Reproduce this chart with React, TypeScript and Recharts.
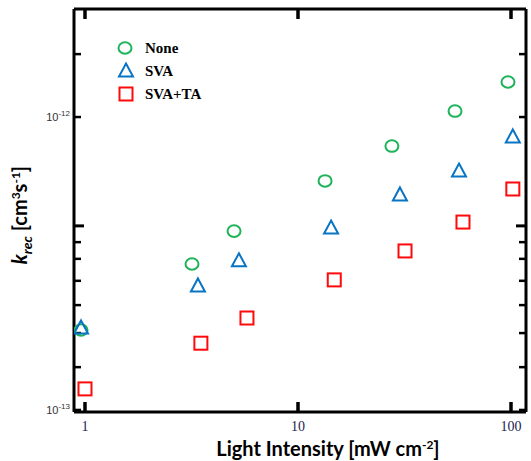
import { ScatterChart, Scatter, XAxis, YAxis, ReferenceLine } from "recharts";

// light intensity [mW cm-2] and k_rec [cm3 s-1]
const intensityNone = [0.958, 3.18, 5.01, 13.4, 27.6, 54.6, 96.8];
const kNone = [1.875e-13, 3.15e-13, 4.08e-13, 6.05e-13, 7.96e-13, 1.048e-12, 1.317e-12];

const intensitySva = [0.958, 3.39, 5.28, 14.3, 30.1, 57.0, 102];
const kSva = [1.905e-13, 2.65e-13, 3.23e-13, 4.18e-13, 5.42e-13, 6.54e-13, 8.55e-13];

const intensitySvaTa = [1.0, 3.5, 5.76, 14.8, 31.8, 59.5, 102];
const kSvaTa = [1.18e-13, 1.69e-13, 2.06e-13, 2.78e-13, 3.49e-13, 4.38e-13, 5.68e-13];

const xTicks = [1, 10, 100];
const yTicks = [1e-13, 1.4e-13, 1.83e-13, 2.28e-13, 2.76e-13, 3.28e-13, 3.74e-13, 4.25e-13, 1e-12, 1.64e-12];
const yMajor = [4.25e-13];
const yLabels: Record<string, string> = { "1e-13": "-13", "1e-12": "-12" };

const GREEN = "#1fb35a";
const BLUE = "#0a74c4";
const RED = "#ff0a0a";

const toPoints = (xs: number[], ys: number[]) => xs.map((x, i) => ({ x, y: ys[i] }));
const noneData = toPoints(intensityNone, kNone);
const svaData = toPoints(intensitySva, kSva);
const svaTaData = toPoints(intensitySvaTa, kSvaTa);

const Circle = ({ cx, cy }: any) => (
  <ellipse cx={cx} cy={cy} rx={6.5} ry={5.8} fill="none" stroke={GREEN} strokeWidth={2} />
);
const Tri = ({ cx, cy }: any) => (
  <path
    d={`M${cx},${cy - 7.5} L${cx + 7},${cy + 5.5} L${cx - 7},${cy + 5.5} Z`}
    fill="none"
    stroke={BLUE}
    strokeWidth={2}
  />
);
const Sq = ({ cx, cy }: any) => (
  <rect x={cx - 6.5} y={cy - 6.5} width={13} height={13} fill="none" stroke={RED} strokeWidth={2} />
);
const Nothing = () => <g />;

const bottomTick = ({ x, y, payload }: any) => (
  <text x={x} y={y + 19} textAnchor="middle" fontFamily="Liberation Serif" fontSize={14} fill="#1c1c54">
    {payload.value}
  </text>
);
const leftTick = ({ x, y, payload }: any) => {
  const lab = yLabels[String(payload.value)];
  if (!lab) return <g />;
  return (
    <text x={x - 4} y={y + 4} textAnchor="end" fontFamily="Liberation Sans" fontSize={11} fill="#333">
      10<tspan dy={-5} fontSize={8}>{lab}</tspan>
    </text>
  );
};

// inward tick marks on both frame sides, drawn at the ends of a reference line
const yTickMark = (major: boolean) => (p: any) => {
  const len = major ? 10 : 7;
  const l = Math.min(p.x1, p.x2);
  const r = Math.max(p.x1, p.x2);
  const w = major ? 3 : 2.5;
  return (
    <g>
      <line x1={l} x2={l + len} y1={p.y1} y2={p.y1} stroke="#000" strokeWidth={w} />
      <line x1={r} x2={r - len} y1={p.y1} y2={p.y1} stroke="#000" strokeWidth={w} />
    </g>
  );
};
const xTickMark = (p: any) => {
  const t = Math.min(p.y1, p.y2);
  const b = Math.max(p.y1, p.y2);
  return (
    <g>
      <line x1={p.x1} x2={p.x1} y1={b} y2={b - 10} stroke="#000" strokeWidth={3.5} />
      <line x1={p.x1} x2={p.x1} y1={t} y2={t + 10} stroke="#000" strokeWidth={3.5} />
    </g>
  );
};

const legendItems = [
  { name: "None", shape: "c" },
  { name: "SVA", shape: "t" },
  { name: "SVA+TA", shape: "s" },
];

export default function App() {
  const xDomain = [0.888, 117.6];
  const yDomain = [0.984e-13, 2.338e-12];
  const axisLine = { stroke: "#000", strokeWidth: 3 };
  return (
    <div style={{ position: "absolute", left: 0, top: 0, width: 531, height: 461, background: "#fff" }}>
      <ScatterChart width={531} height={461} margin={{ top: 8, right: 4, bottom: 19, left: 0 }}>
        <XAxis
          dataKey="x"
          type="number"
          scale="log"
          domain={xDomain}
          allowDataOverflow
          ticks={xTicks}
          tick={bottomTick}
          tickSize={0}
          tickMargin={0}
          tickLine={false}
          axisLine={axisLine}
          height={30}
          interval={0}
        />
        <XAxis
          xAxisId="top"
          dataKey="x"
          orientation="top"
          type="number"
          scale="log"
          domain={xDomain}
          allowDataOverflow
          ticks={xTicks}
          tick={false}
          tickLine={false}
          axisLine={axisLine}
          height={1}
        />
        <YAxis
          dataKey="y"
          type="number"
          scale="log"
          domain={yDomain}
          allowDataOverflow
          ticks={yTicks}
          tick={leftTick}
          tickSize={0}
          tickMargin={0}
          tickLine={false}
          axisLine={axisLine}
          width={74}
          interval={0}
        />
        <YAxis
          yAxisId="right"
          dataKey="y"
          orientation="right"
          type="number"
          scale="log"
          domain={yDomain}
          allowDataOverflow
          ticks={yTicks}
          tick={false}
          tickLine={false}
          axisLine={axisLine}
          width={1}
        />
        {/* invisible series bound to the mirrored frame axes */}
        <Scatter xAxisId="top" yAxisId="right" data={noneData} shape={<Nothing />} isAnimationActive={false} />

        {yTicks.map((v) => (
          <ReferenceLine key={`y${v}`} y={v} shape={yTickMark(yMajor.includes(v))} />
        ))}
        {xTicks.map((v) => (
          <ReferenceLine key={`x${v}`} x={v} shape={xTickMark} />
        ))}

        <Scatter name="SVA+TA" data={svaTaData} shape={<Sq />} isAnimationActive={false} />
        <Scatter name="None" data={noneData} shape={<Circle />} isAnimationActive={false} />
        <Scatter name="SVA" data={svaData} shape={<Tri />} isAnimationActive={false} />
      </ScatterChart>

      {/* legend */}
      <svg style={{ position: "absolute", left: 110, top: 36 }} width={130} height={70}>
        {legendItems.map((it, i) => {
          const cy = 12 + i * 23;
          return (
            <g key={it.name}>
              {it.shape === "c" && <Circle cx={15} cy={cy} />}
              {it.shape === "t" && <Tri cx={16} cy={cy} />}
              {it.shape === "s" && <Sq cx={16} cy={cy} />}
              <text x={35} y={cy + 5} fontFamily="Liberation Serif" fontWeight="bold" fontSize={15} fill="#000">
                {it.name}
              </text>
            </g>
          );
        })}
      </svg>

      {/* axis titles */}
      <svg style={{ position: "absolute", left: 0, top: 0, pointerEvents: "none" }} width={531} height={461}>
        <text x={328} y={456} textAnchor="middle" fontFamily="Lato" fontWeight="bold" fontSize={20} fill="#000">
          Light Intensity [mW cm<tspan dy={-7} fontSize={12}>-2</tspan>
          <tspan dy={7}>]</tspan>
        </text>
        <text
          transform="translate(27,215) rotate(-90)"
          textAnchor="middle"
          fontFamily="Lato"
          fontWeight="bold"
          fontSize={20}
          fill="#000"
        >
          <tspan fontStyle="italic">k</tspan>
          <tspan dy={5} fontSize={14} fontStyle="italic">rec</tspan>
          <tspan dy={-5}> [cm</tspan>
          <tspan dy={-7} fontSize={12}>3</tspan>
          <tspan dy={7}>s</tspan>
          <tspan dy={-7} fontSize={12}>-1</tspan>
          <tspan dy={7}>]</tspan>
        </text>
      </svg>
    </div>
  );
}
